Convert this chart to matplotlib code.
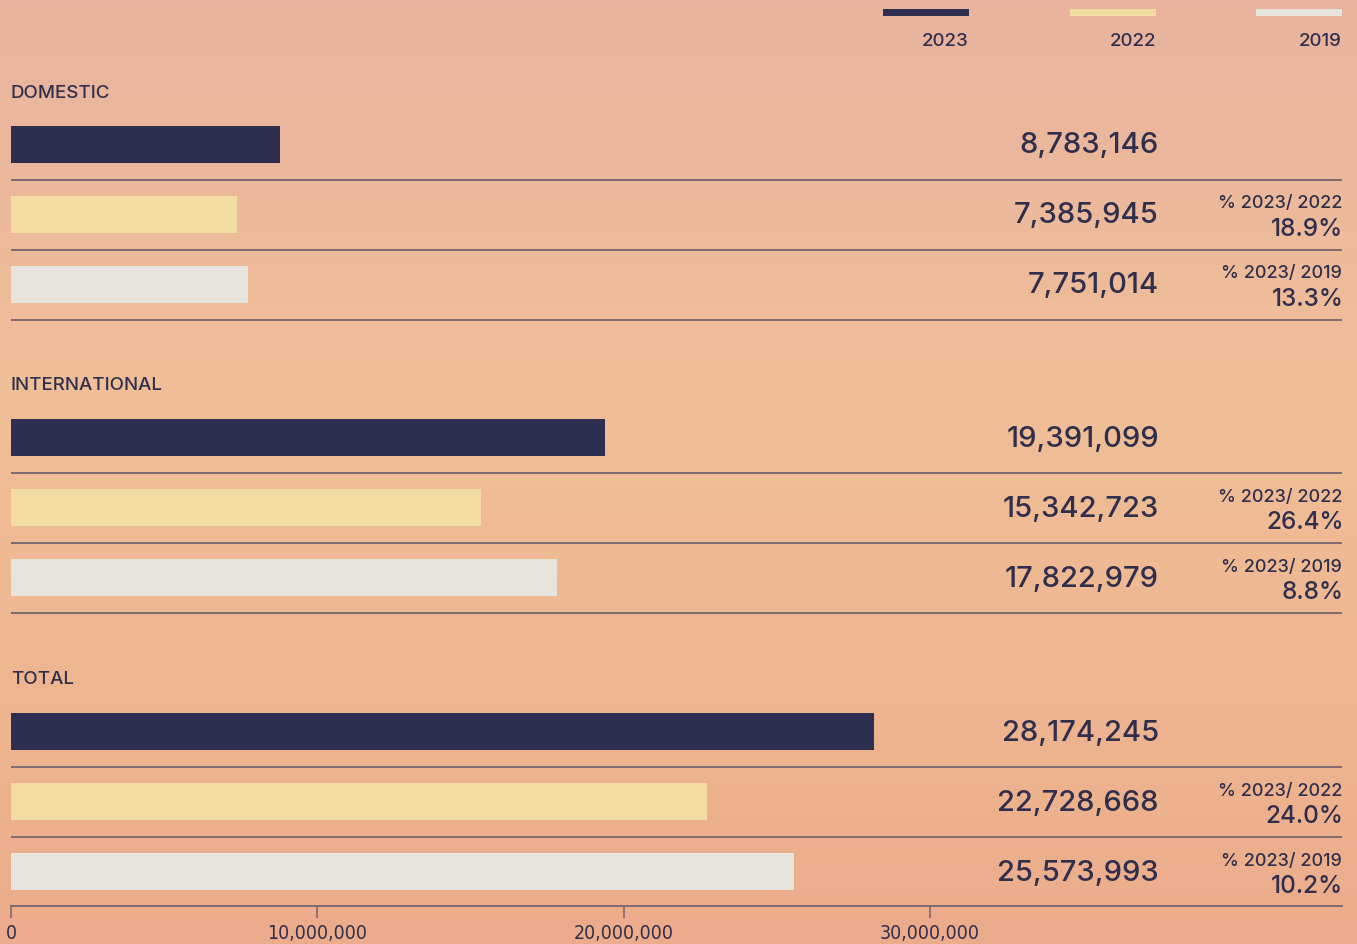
import numpy as np
import matplotlib
matplotlib.use("Agg")
import matplotlib.pyplot as plt
from matplotlib.colors import LinearSegmentedColormap

# ---------------- data ----------------
categories = ["DOMESTIC", "INTERNATIONAL", "TOTAL"]
years = ["2023", "2022", "2019"]
values_2023 = [8783146, 19391099, 28174245]
values_2022 = [7385945, 15342723, 22728668]
values_2019 = [7751014, 17822979, 25573993]
pct_labels = ["% 2023/ 2022", "% 2023/ 2019"]
pct_vs_2022 = ["18.9%", "26.4%", "24.0%"]
pct_vs_2019 = ["13.3%", "8.8%", "10.2%"]
xticks = [0, 10_000_000, 20_000_000, 30_000_000]
xtick_labels = ["0", "10,000,000", "20,000,000", "30,000,000"]

# ---------------- style ----------------
NAVY = "#2e2f4e"
YELLOW = "#f2dca2"
GREY = "#e7e4de"
LINE = "#75656e"
TEXT = "#2f2f4d"
colors = [NAVY, YELLOW, GREY]
FONT = ["Inter", "DejaVu Sans"]

W, H = 1357, 945
fig = plt.figure(figsize=(W / 100, H / 100), dpi=100)

# background gradient
bg = fig.add_axes([0, 0, 1, 1], zorder=0)
bg.axis("off")
cmap = LinearSegmentedColormap.from_list(
    "bg", [(0, "#e9b39f"), (0.42, "#f0bf97"), (0.75, "#eeb590"), (1, "#ecac8b")])
grad = np.linspace(0, 1, 256).reshape(-1, 1)
bg.imshow(grad, aspect="auto", cmap=cmap, extent=[0, 1, 1, 0])
bg.set_xlim(0, 1)
bg.set_ylim(1, 0)

# main axes: x in data units, y in pixel rows (top = 0)
x0, x1 = 11, 1342
px_per_unit = (930 - 11) / 30_000_000
xmax = (x1 - x0) / px_per_unit
ax = fig.add_axes([x0 / W, 0, (x1 - x0) / W, 1], zorder=1)
ax.patch.set_alpha(0)
ax.set_xlim(0, xmax)
ax.set_ylim(H, 0)
for s in ["top", "left", "right"]:
    ax.spines[s].set_visible(False)
ax.set_yticks([])

dy = 1.0
group_top = [92 + dy, 385 + dy, 679 + dy]
row_gap = 70
bar_h = 37.5
series = [values_2023, values_2022, values_2019]
px = 1 / px_per_unit

for g, cat in enumerate(categories):
    ty = group_top[g]
    ax.text(0, ty, cat, fontsize=13.5, color=TEXT, family=FONT,
            weight="medium", va="center", ha="left")
    for r in range(3):
        yc = ty + 52.5 + r * row_gap
        v = series[r][g]
        ax.barh(yc, v, height=bar_h, color=colors[r], left=0, zorder=2)
        ax.text(1159 * px - x0 * px, yc + 0.5, f"{v:,}", fontsize=21,
                color=TEXT, family=FONT, weight="medium",
                ha="right", va="center")
        if r > 0:
            pct = (pct_vs_2022 if r == 1 else pct_vs_2019)[g]
            ax.text(xmax, yc - 11.5, pct_labels[r - 1], fontsize=13,
                    color=TEXT, family=FONT, weight="medium",
                    ha="right", va="center")
            ax.text(xmax + 1.5 * px, yc + 14, pct, fontsize=17.5, color=TEXT,
                    family=FONT, weight="medium", ha="right", va="center")
        line_y = yc + 35.5
        if not (g == 2 and r == 2):
            ax.hlines(line_y, 0, xmax, color=LINE, lw=1.3, zorder=3)

# x axis at bottom
ax.spines["bottom"].set_position(("data", 906.5))
ax.spines["bottom"].set_color(LINE)
ax.spines["bottom"].set_linewidth(1.3)
ax.set_xticks(xticks)
ax.set_xticklabels(xtick_labels, family="DejaVu Sans", stretch="condensed",
                   weight="medium", fontsize=14, color=TEXT)
ax.tick_params(axis="x", direction="out", length=8.5, width=1.1,
               color=LINE, pad=4)

# legend
leg_right = [969, 1156, 1342]
for i, yr in enumerate(years):
    r = (leg_right[i] - x0) * px
    l = r - 86 * px
    ax.barh(12.5 + dy, r - l, left=l, height=7, color=colors[i], zorder=2)
    ax.text(r, 40 + dy, yr, fontsize=13.5, color=TEXT, family=FONT,
            weight="medium", ha="right", va="center")

fig.savefig("out.png", dpi=100)
